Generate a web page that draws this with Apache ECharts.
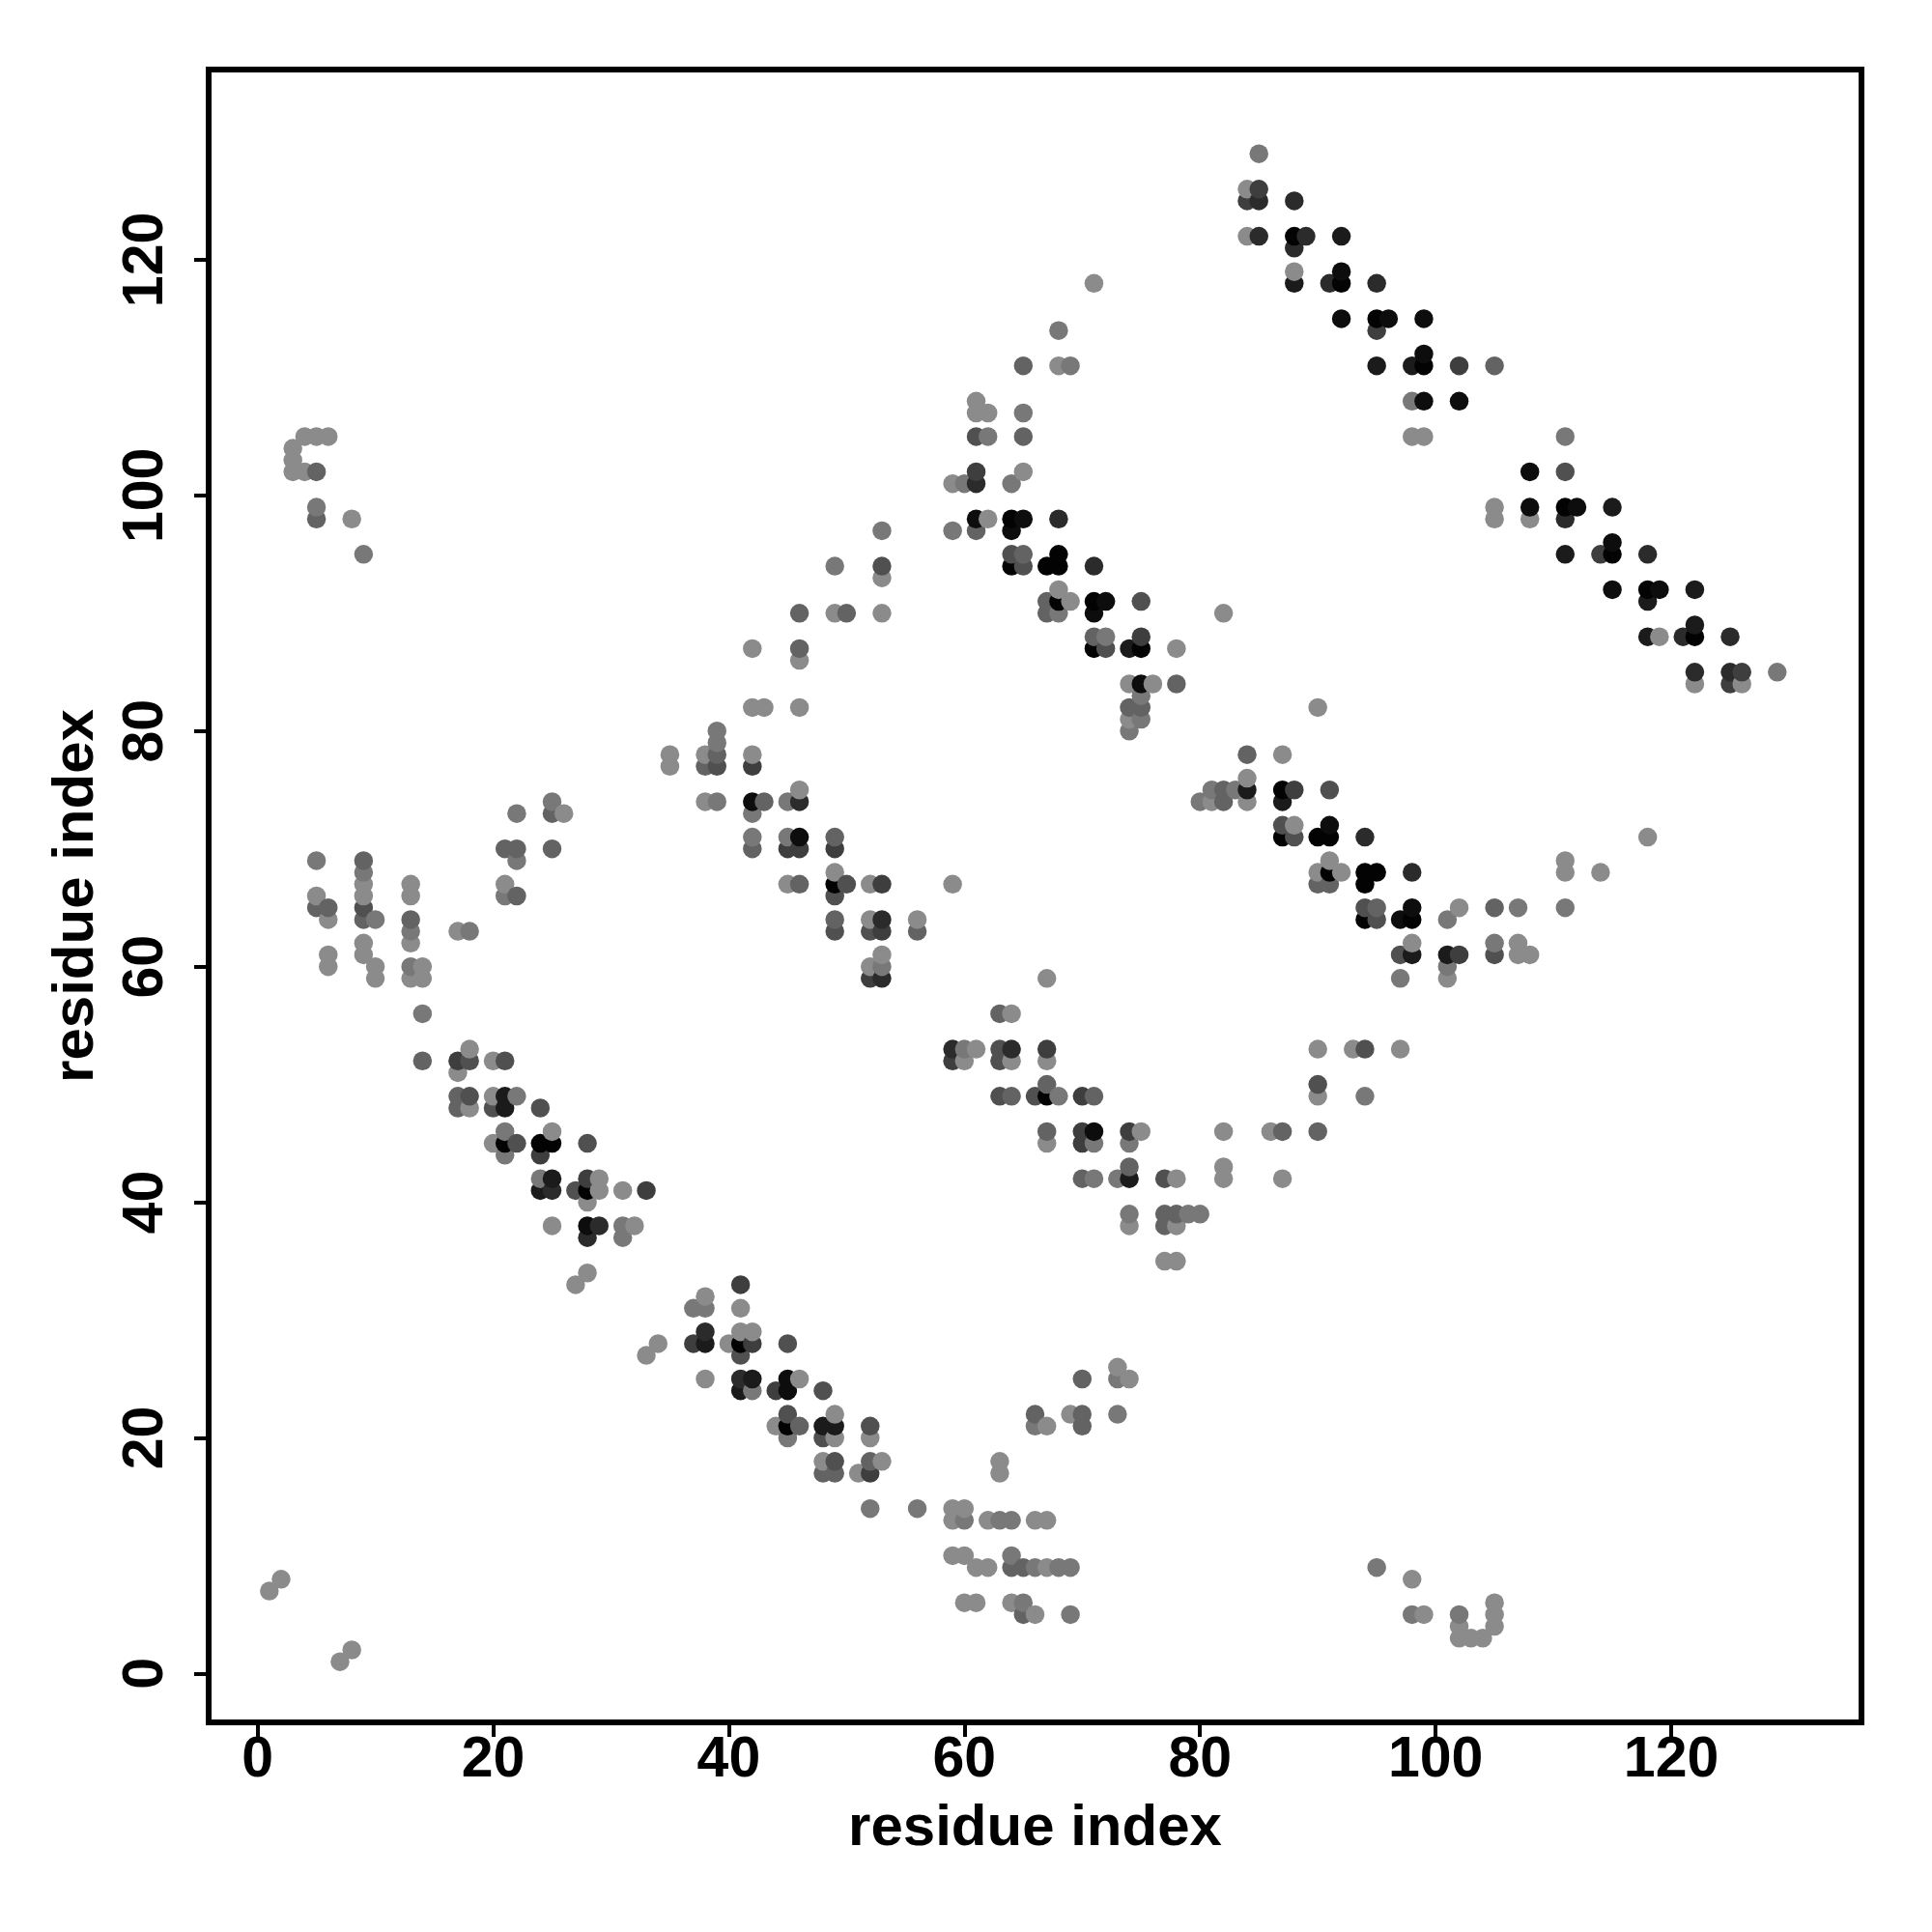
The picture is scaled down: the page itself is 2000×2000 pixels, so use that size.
<!DOCTYPE html>
<html>
<head>
<meta charset="utf-8">
<style>html,body{margin:0;padding:0;background:#fff}#c{width:2000px;height:2000px}</style>
<script src="https://cdn.jsdelivr.net/npm/echarts@6/dist/echarts.min.js"></script>
</head>
<body>
<div id="c"></div>
<script>
const axisTitle = "residue index";
const tickValues = [0, 20, 40, 60, 80, 100, 120];

const shade8 = [[1,7],[2,8],[7,1],[8,2],[3,102],[3,103],[3,104],[4,102],[4,105],[5,105],[6,105],[8,98],
[5,66],[6,64],[6,60],[6,61],[9,61],[9,62],[9,66],[9,67],[10,59],[10,60],[13,59],[13,62],[13,66],[13,67],[14,59],[14,60],
[17,51],[17,63],[18,48],[18,53],[20,45],[20,49],[20,52],[21,67],[25,46],[25,38],[26,73],[27,33],[28,34],[28,40],[29,41],[29,42],
[31,41],[32,38],[33,27],[34,28],[35,77],[35,78],[38,25],[38,32],[38,74],[38,78],[40,28],[41,29],[41,31],[42,29],[42,78],[42,82],[43,82],
[46,82],[46,25],[44,21],[45,67],[46,75],[46,86],[42,87],[48,18],[49,20],[49,22],[49,68],[49,90],[52,20],[52,60],[52,64],[52,67],
[53,18],[53,61],[53,90],[53,93],[51,17],[56,64],[59,10],[59,13],[59,14],[59,67],[59,101],[60,10],[60,14],[60,52],[61,6],[60,6],[61,9],[62,9],
[61,53],[62,13],[63,17],[63,18],[64,6],[64,52],[64,56],[66,5],[66,13],[67,13],[67,9],[67,21],[67,45],[67,52],[67,59],[68,92],[69,91],[69,22],
[61,107],[61,108],[62,107],[62,98],[65,102],[71,118],[68,111],[75,46],[73,26],[74,25],[74,38],[74,81],[74,84],[76,84],[78,35],[77,35],[78,38],
[78,42],[78,87],[82,42],[82,43],[82,46],[82,90],[84,74],[84,76],[84,122],[84,126],[86,46],[87,42],[87,78],[88,72],[88,119],[90,49],[90,53],
[90,68],[90,82],[91,69],[92,68],[93,53],[97,53],[98,8],[98,62],[98,105],[99,105],[99,5],[101,59],[102,65],[102,3],[102,4],[103,3],[104,3],
[105,4],[105,5],[105,6],[105,98],[105,99],[107,62],[107,61],[108,61],[108,98],[111,68],[111,69],[114,68],[118,71],[119,88],[122,84],[126,84],[81,74]];

const shade7 = [[95,9],[85,129],[129,85],[66,21],[65,6],[69,5],[68,9],[69,9],[64,10],[63,13],[64,13],[60,13],[52,14],[56,14],[73,22],[73,25],[74,39],
[79,39],[80,39],[71,42],[73,42],[74,45],[71,45],[68,49],[60,53],[94,49],[97,59],[101,60],[101,64],[105,62],[107,65],[111,65],[111,105],[98,108],
[72,88],[75,83],[75,81],[74,80],[65,107],[68,114],[69,111],[62,105],[60,101],[64,101],[59,97],[45,71],[45,74],[42,73],[42,71],[39,74],[39,79],[39,80],
[53,60],[53,97],[49,94],[45,20],[22,73],[25,74],[22,69],[5,69],[9,68],[10,64],[13,63],[13,60],[18,63],[5,99],[9,95],[21,66],[21,46],[21,44],[22,49],
[31,37],[31,38],[37,31],[38,31],[42,24],[24,42],[14,56],[66,9],[80,74],[81,75],[83,75],[68,90],[98,5],[102,5]];

const shade6 = [[5,65],[6,65],[9,64],[9,69],[13,64],[14,52],[17,48],[17,49],[21,70],[22,66],[22,70],[25,70],[25,73],[38,77],[39,78],[43,74],[42,70],
[46,67],[46,21],[46,90],[46,87],[50,90],[49,64],[49,71],[56,63],[63,56],[64,49],[71,49],[67,46],[67,50],[70,42],[65,5],[64,9],[65,9],[66,22],[70,21],[70,22],[70,25],
[74,43],[77,38],[77,39],[78,39],[78,84],[74,82],[75,82],[84,78],[82,74],[82,75],[90,46],[87,46],[61,97],[65,105],[65,111],[67,90],[67,91],[65,95],
[71,88],[90,67],[91,67],[95,65],[105,65],[105,111],[48,17],[49,17],[52,18],[5,98],[5,102]];

const shade5 = [[9,65],[18,52],[18,49],[21,52],[20,48],[22,45],[24,48],[27,41],[28,45],[41,27],[45,28],[45,22],[49,18],[48,24],[48,20],[52,21],[49,63],[49,66],
[50,67],[52,63],[61,105],[63,49],[63,52],[63,53],[64,95],[65,94],[66,49],[77,42],[90,50],[94,53],[95,64],[94,65],[87,72],[88,71],[91,75],[97,61],[105,61],
[75,91],[111,102],[72,87],[39,77],[53,94]];

const shade4 = [[17,52],[24,44],[28,42],[33,41],[37,28],[41,33],[42,28],[44,24],[42,77],[45,70],[46,70],[49,70],[52,59],[53,63],[53,67],[52,17],[59,52],[67,53],
[70,45],[70,46],[70,49],[74,46],[75,88],[61,102],[85,126],[84,125],[88,75],[95,114],[102,61],[102,111],[114,95],[125,84],[126,85]];

const shade3 = [[25,41],[28,37],[29,38],[38,29],[41,25],[53,64],[59,53],[46,74],[53,59],[61,101],[64,53],[68,98],[71,94],[85,122],[85,125],[88,125],[88,121],
[89,122],[91,118],[95,118],[94,71],[98,68],[111,98],[118,95],[121,88],[122,85],[125,85],[125,88]];

const shade2 = [[21,48],[21,49],[24,41],[25,42],[38,28],[41,24],[42,25],[48,21],[49,21],[74,42],[74,87],[87,74],[84,75],[98,61],[101,61],[88,118],[92,122],[95,111],
[98,111],[111,95],[115,99],[118,88],[118,91],[122,89],[122,92]];

const shade1 = [[28,38],[42,74],[45,24],[45,25],[46,71],[71,46],[61,98],[65,98],[64,97],[71,90],[72,91],[75,84],[92,115],[92,119],[96,115],[99,115],[99,112],[99,108],
[102,108],[108,102],[108,99],[112,99],[115,96],[115,92],[119,92],[97,64],[98,65],[91,72]];

const shade0 = [[21,45],[24,45],[25,45],[28,41],[41,28],[45,21],[49,67],[67,49],[64,98],[64,94],[67,94],[68,94],[68,95],[68,91],[71,91],[71,87],[75,87],[87,71],[87,75],
[90,71],[91,71],[91,68],[94,64],[94,67],[94,68],[95,68],[98,64],[88,122],[92,118],[95,115],[99,111],[111,99],[115,95],[118,92],[122,88]];

const shadeGroups = [
  [shade8, '#8b8b8b'], [shade7, '#787878'], [shade6, '#636363'], [shade5, '#505050'], [shade4, '#3e3e3e'],
  [shade3, '#2b2b2b'], [shade2, '#1b1b1b'], [shade1, '#0d0d0d'], [shade0, '#030303']
];

// Points are painted column by column, then upward, as in the source figure.
const points = [];
shadeGroups.forEach(([pairs, color]) => {
  pairs.forEach(p => points.push({ value: p, itemStyle: { color, opacity: 1 } }));
});
points.sort((a, b) => a.value[0] - b.value[0] || a.value[1] - b.value[1]);

const titleFont = { fontFamily: 'Liberation Sans', fontWeight: 'bold', fontSize: 60, color: '#000' };
const labelFont = { fontFamily: 'Liberation Sans', fontWeight: 'bold', fontSize: 59, color: '#000' };
function axis(nameGap, labelMargin, rotate) {
  return {
    type: 'value', min: -4.15, max: 136.15,
    name: axisTitle, nameLocation: 'middle', nameGap,
    nameTextStyle: titleFont,
    splitLine: { show: false },
    axisLine: { show: false, onZero: false },
    axisTick: { show: true, customValues: tickValues, length: 15, lineStyle: { color: '#000', width: 4 } },
    axisLabel: Object.assign({ show: true, customValues: tickValues, margin: labelMargin, rotate }, labelFont)
  };
}

const chart = echarts.init(document.getElementById('c'), null, { renderer: 'canvas' });
chart.setOption({
  animation: false,
  backgroundColor: '#fff',
  grid: { left: 216, top: 72, width: 1711, height: 1711, show: true, borderColor: '#000', borderWidth: 6, backgroundColor: 'transparent' },
  xAxis: axis(80, 10, 0),
  yAxis: axis(107, 35, 90),
  series: [{ type: 'scatter', symbol: 'circle', symbolSize: 19.5, data: points, silent: true, itemStyle: { opacity: 1 } }]
});
</script>
</body>
</html>
